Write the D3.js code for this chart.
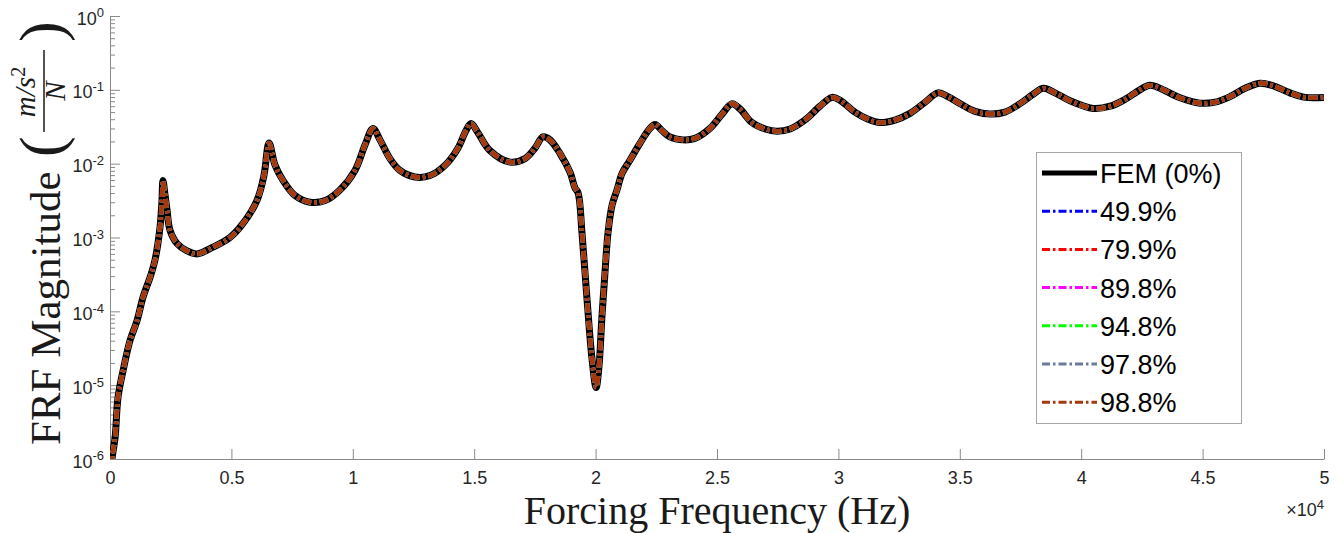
<!DOCTYPE html>
<html>
<head>
<meta charset="utf-8">
<script src="https://cdn.jsdelivr.net/npm/d3@7"></script>
<style>
  body { margin: 0; background: #fff; }
  svg text { font-family: "Liberation Sans", Arial, sans-serif; }
  svg text.serif { font-family: "Liberation Serif", "Times New Roman", serif; }
</style>
</head>
<body>
<svg id="chart" width="1341" height="533"></svg>
<script>
// forcing frequency (Hz) and FRF magnitude
var freq = [30, 80, 210, 330, 540, 820, 1110, 1360, 1650, 1850, 2060,
  2140, 2180, 2270, 2350, 2470, 2760, 3170, 3580, 4240, 4940,
  5480, 6050, 6340, 6550, 6800, 7130, 7620, 8240, 8860, 9470,
  10090, 10500, 10830, 11120, 11530, 11940, 12560, 13180, 13800, 14330,
  14660, 14870, 15160, 15650, 16470, 17090, 17500, 17830, 18120, 18530,
  18950, 19150, 19280, 19440, 19650, 19850, 20020, 20140, 20260, 20390,
  20510, 20680, 20880, 21090, 21420, 21830, 22240, 22450, 22740, 23060,
  23600, 24090, 24710, 25210, 25620, 25950, 26440, 26980, 27470, 28010,
  28620, 29240, 29740, 30070, 30680, 31220, 31710, 32330, 32950, 33570,
  34100, 34510, 35010, 35630, 36240, 36860, 37480, 38020, 38430, 38920,
  39540, 40490, 41190, 41800, 42420, 42830, 43330, 44070, 44890, 45510,
  46130, 46750, 47360, 47860, 48600, 49220, 50000];
var mag = [4e-7, 9.8e-7, 1.95e-6, 6.8e-6, 1.58e-5, 3.98e-5, 7.4e-5, 1.55e-4, 2.88e-4, 4.9e-4, 1.38e-3,
  3.16e-3, 5.9e-3, 3.7e-3, 2.34e-3, 1.26e-3, 8.3e-4, 6.6e-4, 6.0e-4, 7.4e-4, 1.0e-3,
  1.55e-3, 3.16e-3, 6.9e-3, 1.9e-2, 9.5e-3, 5.9e-3, 3.7e-3, 3.0e-3, 3.16e-3, 4.4e-3,
  8.1e-3, 1.78e-2, 3.0e-2, 2.1e-2, 1.17e-2, 8.1e-3, 6.6e-3, 6.9e-3, 9.5e-3, 1.62e-2,
  2.8e-2, 3.5e-2, 2.6e-2, 1.5e-2, 1.05e-2, 1.17e-2, 1.62e-2, 2.3e-2, 2.1e-2, 1.38e-2,
  7.6e-3, 4.7e-3, 4.0e-3, 1.15e-3, 1.41e-4, 2.3e-5, 9.3e-6, 1.8e-5, 8.3e-5, 3.5e-4,
  1.15e-3, 2.75e-3, 4.4e-3, 7.4e-3, 1.12e-2, 1.9e-2, 3.0e-2, 3.4e-2, 2.8e-2, 2.3e-2,
  2.1e-2, 2.2e-2, 3.0e-2, 4.7e-2, 6.5e-2, 5.5e-2, 3.6e-2, 2.95e-2, 2.75e-2, 2.95e-2,
  3.9e-2, 6.0e-2, 7.9e-2, 7.2e-2, 5.0e-2, 4.0e-2, 3.6e-2, 3.9e-2, 4.8e-2, 6.8e-2,
  9.1e-2, 8.1e-2, 6.5e-2, 5.1e-2, 4.7e-2, 5.0e-2, 6.5e-2, 8.7e-2, 1.05e-1, 9.1e-2,
  7.1e-2, 5.6e-2, 6.0e-2, 7.4e-2, 1.0e-1, 1.15e-1, 1.02e-1, 7.8e-2, 6.6e-2, 6.8e-2,
  8.1e-2, 1.05e-1, 1.23e-1, 1.15e-1, 9.1e-2, 7.9e-2, 7.9e-2];

var seriesNames = ["FEM (0%)", "49.9%", "79.9%", "89.8%", "94.8%", "97.8%", "98.8%"];
var seriesColors = ["#000000", "#0000ff", "#ff0000", "#ff00ff", "#00ff00", "#6b7b9c", "#a5390c"];

var xTicks = [0, 5000, 10000, 15000, 20000, 25000, 30000, 35000, 40000, 45000, 50000];
var yExponents = [0, -1, -2, -3, -4, -5, -6];

var svg = d3.select("#chart");
var plotL = 110, plotR = 1324, plotT = 16, plotB = 459;
var axisColor = "#8a8a8a", textColor = "#262626";

var x = d3.scaleLinear().domain([0, 50000]).range([plotL, plotR]);
var y = d3.scaleLog().domain([1e-6, 1]).range([plotB, plotT]);

var data = freq.map(function(f, i) { return {f: f, m: mag[i]}; });

// axes
var xAxis = d3.axisBottom(x).tickValues(xTicks).tickSizeInner(-10).tickSizeOuter(0)
  .tickPadding(12).tickFormat(function(d) { return d / 10000; });
var gx = svg.append("g").attr("transform", "translate(0," + plotB + ")").call(xAxis);

var minor = [];
yExponents.forEach(function(e) {
  if (e === 0) return;
  for (var k = 2; k <= 9; k++) minor.push(k * Math.pow(10, e));
});
svg.append("g").attr("transform", "translate(" + plotL + ",0)")
  .call(d3.axisLeft(y).tickValues(minor).tickSizeInner(-5).tickSizeOuter(0).tickFormat(""))
  .call(function(g) { g.select(".domain").remove(); });

var gy = svg.append("g").attr("transform", "translate(" + plotL + ",0)")
  .call(d3.axisLeft(y).tickValues(yExponents.map(function(e) { return Math.pow(10, e); }))
    .tickSizeInner(-10).tickSizeOuter(0).tickPadding(6).tickFormat(""));
gy.selectAll(".tick text").each(function(d) {
  var t = d3.select(this);
  t.text("10");
  t.append("tspan").attr("dy", "-0.55em").style("font-size", "13px")
    .text(Math.round(Math.log10(d)) === 0 ? "0" : Math.round(Math.log10(d)));
});

[gx, gy].forEach(function(g) {
  g.select(".domain").attr("stroke", axisColor);
  g.selectAll(".tick text").style("font-size", "18px").attr("fill", textColor);
});
gy.selectAll(".tick text").attr("dy", "0.45em");
svg.selectAll(".tick line").attr("stroke", axisColor);

svg.append("text").attr("x", plotR).attr("y", 516).attr("text-anchor", "end")
  .style("font-size", "18px").attr("fill", textColor)
  .text("\u00d710").append("tspan").attr("dy", "-0.55em").style("font-size", "13px").text("4");

// curves
svg.append("clipPath").attr("id", "plotclip").append("rect")
  .attr("x", plotL).attr("y", plotT).attr("width", plotR - plotL).attr("height", plotB - plotT);

var line = d3.line().x(function(d) { return x(d.f); }).y(function(d) { return y(d.m); })
  .curve(d3.curveCatmullRom.alpha(0.5));

var plot = svg.append("g").attr("clip-path", "url(#plotclip)");
seriesNames.forEach(function(name, i) {
  plot.append("path").datum(data)
    .attr("d", line)
    .attr("fill", "none")
    .attr("stroke", seriesColors[i])
    .attr("stroke-width", i === 0 ? 7 : 4.6)
    .attr("stroke-linejoin", "round")
    .attr("stroke-dasharray", i === 0 ? null : "9,3,2.5,3");
});

// legend
var lg = svg.append("g");
lg.append("rect").attr("x", 1036.5).attr("y", 152.5).attr("width", 205).attr("height", 271)
  .attr("fill", "#fff").attr("stroke", "#a6a6a6").attr("stroke-width", 1);
seriesNames.forEach(function(name, i) {
  var cy = 173 + i * 38.2;
  lg.append("line").attr("x1", 1042).attr("x2", 1097).attr("y1", cy).attr("y2", cy)
    .attr("stroke", seriesColors[i])
    .attr("stroke-width", i === 0 ? 5 : 3)
    .attr("stroke-dasharray", i === 0 ? null : "8,3,2.5,3");
  lg.append("text").attr("x", 1100).attr("y", cy + 10)
    .style("font-size", "27px").attr("fill", "#000").text(name);
});

// axis titles
svg.append("text").attr("class", "serif")
  .attr("x", (plotL + plotR) / 2).attr("y", 524).attr("text-anchor", "middle")
  .style("font-size", "40px").attr("fill", "#1a1a1a")
  .text("Forcing Frequency (Hz)");

var yl = svg.append("g").attr("transform", "translate(60,0) rotate(-90)").attr("fill", "#1a1a1a");
yl.append("text").attr("class", "serif").attr("x", -445).attr("y", 0)
  .style("font-size", "43px").text("FRF Magnitude");
// big parentheses around the fraction m/s^2 over N
yl.append("text").attr("class", "serif").attr("x", -157).attr("y", 2)
  .style("font-size", "62px").text("(");
yl.append("text").attr("class", "serif").attr("x", -92).attr("y", -25).attr("text-anchor", "middle")
  .style("font-size", "29px").style("font-style", "italic")
  .text("m/s").append("tspan").attr("dy", "-0.5em").style("font-size", "20px")
  .style("font-style", "normal").text("2");
yl.append("line").attr("x1", -132).attr("x2", -50).attr("y1", -16).attr("y2", -16)
  .attr("stroke", "#1a1a1a").attr("stroke-width", 1.5);
yl.append("text").attr("class", "serif").attr("x", -91).attr("y", 5).attr("text-anchor", "middle")
  .style("font-size", "29px").style("font-style", "italic").text("N");
yl.append("text").attr("class", "serif").attr("x", -42).attr("y", 2)
  .style("font-size", "62px").text(")");
</script>
</body>
</html>
